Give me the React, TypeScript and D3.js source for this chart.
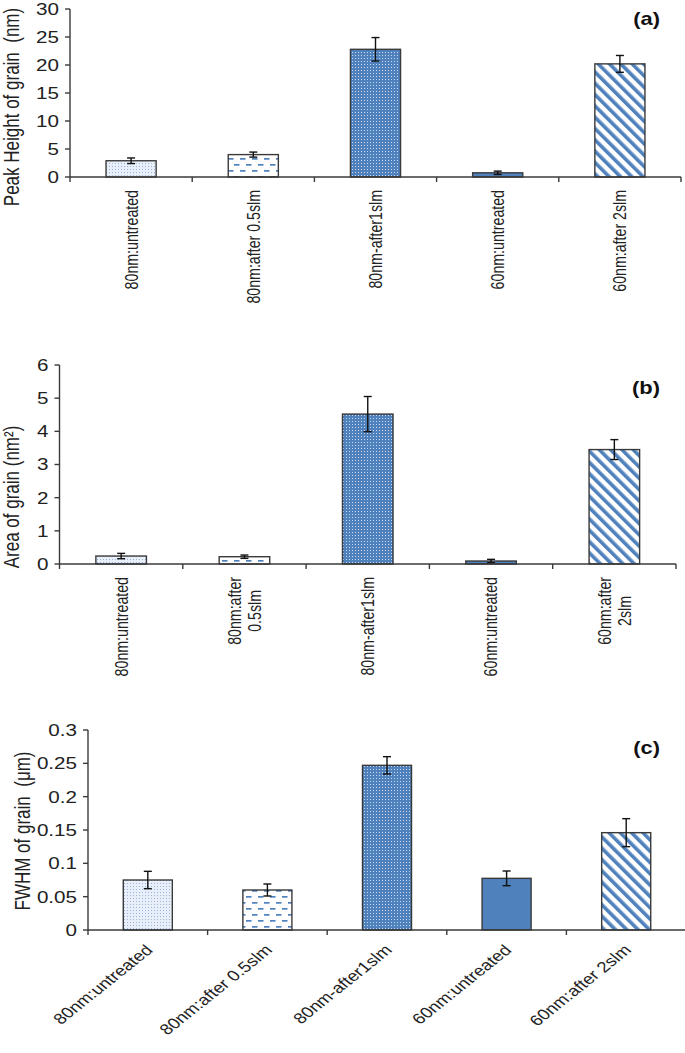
import React, { useEffect, useRef } from "react";
import * as d3 from "d3";

// ---------- data ----------
const categories = ["80nm:untreated", "80nm:after 0.5slm", "80nm-after1slm", "60nm:untreated", "60nm:after 2slm"];
const categoriesB = ["80nm:untreated", "80nm:after\n0.5slm", "80nm-after1slm", "60nm:untreated", "60nm:after\n2slm"];

const heightValues = [2.9, 4.0, 22.8, 0.75, 20.2];
const heightErrors = [0.5, 0.45, 2.1, 0.3, 1.5];

const areaValues = [0.24, 0.22, 4.52, 0.09, 3.45];
const areaErrors = [0.08, 0.05, 0.53, 0.05, 0.3];

const fwhmValues = [0.075, 0.06, 0.247, 0.0775, 0.146];
const fwhmErrors = [0.013, 0.009, 0.013, 0.011, 0.021];

const heightTicks = [0, 5, 10, 15, 20, 25, 30];
const heightTickLabels = ["0", "5", "10", "15", "20", "25", "30"];
const areaTicks = [0, 1, 2, 3, 4, 5, 6];
const areaTickLabels = ["0", "1", "2", "3", "4", "5", "6"];
const fwhmTicks = [0, 0.05, 0.1, 0.15, 0.2, 0.25, 0.3];
const fwhmTickLabels = ["0", "0.05", "0.1", "0.15", "0.2", "0.25", "0.3"];

// ---------- styles ----------
const BLUE = "#4F81BD";
const AXIS = "#3a3a3a";
const FONT = "'Liberation Sans', Arial, sans-serif";
const SX = 1.25; // horizontal stretch of the original picture
const barFills = ["url(#pLightDots)", "url(#pDashes)", "url(#pDenseDots)", BLUE, "url(#pDiag)"];

type Panel = {
  labels: string[];
  values: number[];
  errors: number[];
  ticks: number[];
  tickLabels: string[];
  x0: number; x1: number; yTop: number; yBot: number;
  title: string; titleX: number; titleY: number;
  tag: string; tagY: number;
  labelMode: "vertical" | "diag";
};

const panels: Panel[] = [
  {
    labels: categories, values: heightValues, errors: heightErrors,
    ticks: heightTicks, tickLabels: heightTickLabels,
    x0: 70, x1: 681, yTop: 9, yBot: 177,
    title: "Peak Height of grain  (nm)", titleX: 19, titleY: 107,
    tag: "(a)", tagY: 25, labelMode: "vertical",
  },
  {
    labels: categoriesB, values: areaValues, errors: areaErrors,
    ticks: areaTicks, tickLabels: areaTickLabels,
    x0: 59.5, x1: 676, yTop: 365, yBot: 564,
    title: "Area of grain (nm\u00B2)", titleX: 19, titleY: 497,
    tag: "(b)", tagY: 394, labelMode: "vertical",
  },
  {
    labels: categories, values: fwhmValues, errors: fwhmErrors,
    ticks: fwhmTicks, tickLabels: fwhmTickLabels,
    x0: 88, x1: 686, yTop: 730, yBot: 930,
    title: "FWHM of grain  (\u03BCm)", titleX: 30, titleY: 831,
    tag: "(c)", tagY: 754, labelMode: "diag",
  },
];

export default function App() {
  const ref = useRef<SVGSVGElement | null>(null);

  useEffect(() => {
    document.body.style.margin = "0";
    const svg = d3.select(ref.current);
    svg.selectAll("*").remove();

    // patterns
    const defs = svg.append("defs");
    const p1 = defs.append("pattern").attr("id", "pLightDots").attr("patternUnits", "userSpaceOnUse")
      .attr("width", 3).attr("height", 3);
    p1.append("rect").attr("width", 3).attr("height", 3).attr("fill", "#e9eff8");
    p1.append("rect").attr("x", 1).attr("y", 1).attr("width", 1).attr("height", 1).attr("fill", "#9bb5de");

    const p2 = defs.append("pattern").attr("id", "pDashes").attr("patternUnits", "userSpaceOnUse")
      .attr("width", 12).attr("height", 12);
    p2.append("rect").attr("width", 12).attr("height", 12).attr("fill", "#fff");
    p2.append("rect").attr("x", 0).attr("y", 2).attr("width", 5.5).attr("height", 1.7).attr("fill", BLUE);
    p2.append("rect").attr("x", 6).attr("y", 8).attr("width", 5.5).attr("height", 1.7).attr("fill", BLUE);

    const p3 = defs.append("pattern").attr("id", "pDenseDots").attr("patternUnits", "userSpaceOnUse")
      .attr("width", 3).attr("height", 3);
    p3.append("rect").attr("width", 3).attr("height", 3).attr("fill", BLUE);
    p3.append("rect").attr("x", 1).attr("y", 1).attr("width", 1).attr("height", 1).attr("fill", "#c9d8ee");

    const p5 = defs.append("pattern").attr("id", "pDiag").attr("patternUnits", "userSpaceOnUse")
      .attr("width", 8).attr("height", 8).attr("patternTransform", "rotate(-45)");
    p5.append("rect").attr("width", 8).attr("height", 8).attr("fill", "#fff");
    p5.append("rect").attr("x", 0).attr("y", 0).attr("width", 3.6).attr("height", 8).attr("fill", BLUE);

    panels.forEach((p) => {
      const g = svg.append("g");
      const x = d3.scaleBand<number>()
        .domain(d3.range(p.labels.length))
        .range([p.x0, p.x1])
        .paddingInner(0.59)
        .paddingOuter(0.295);
      const y = d3.scaleLinear()
        .domain([p.ticks[0], p.ticks[p.ticks.length - 1]])
        .range([p.yBot, p.yTop]);
      const step = x.step();

      // bars
      g.selectAll("rect.bar").data(p.values).join("rect")
        .attr("class", "bar")
        .attr("x", (_d, i) => x(i)!)
        .attr("y", (d) => y(d))
        .attr("width", x.bandwidth())
        .attr("height", (d) => y(0) - y(d))
        .attr("fill", (_d, i) => barFills[i])
        .attr("stroke", AXIS)
        .attr("stroke-width", 1.4);

      // error bars
      const eb = g.selectAll("g.err").data(p.values).join("g").attr("class", "err");
      eb.append("line")
        .attr("x1", (_d, i) => x(i)! + x.bandwidth() / 2)
        .attr("x2", (_d, i) => x(i)! + x.bandwidth() / 2)
        .attr("y1", (d, i) => y(d + p.errors[i]))
        .attr("y2", (d, i) => y(d - p.errors[i]))
        .attr("stroke", "#111").attr("stroke-width", 1.4);
      [1, -1].forEach((s) => {
        eb.append("line")
          .attr("x1", (_d, i) => x(i)! + x.bandwidth() / 2 - 4)
          .attr("x2", (_d, i) => x(i)! + x.bandwidth() / 2 + 4)
          .attr("y1", (d, i) => y(d + s * p.errors[i]))
          .attr("y2", (d, i) => y(d + s * p.errors[i]))
          .attr("stroke", "#111").attr("stroke-width", 1.4);
      });

      // y axis
      g.append("line").attr("x1", p.x0).attr("x2", p.x0).attr("y1", p.yTop).attr("y2", p.yBot)
        .attr("stroke", AXIS).attr("stroke-width", 1.4);
      g.selectAll("line.yt").data(p.ticks).join("line").attr("class", "yt")
        .attr("x1", p.x0 - 5).attr("x2", p.x0)
        .attr("y1", (d) => y(d)).attr("y2", (d) => y(d))
        .attr("stroke", AXIS).attr("stroke-width", 1.4);
      g.selectAll("text.yl").data(p.ticks).join("text").attr("class", "yl")
        .attr("transform", (d) => `translate(${p.x0 - 11},${y(d)}) scale(${SX},1)`)
        .attr("text-anchor", "end").attr("dy", "0.36em")
        .attr("font-family", FONT).attr("font-size", 16.5).attr("fill", "#222")
        .text((_d, i) => p.tickLabels[i]);

      // x axis
      g.append("line").attr("x1", p.x0).attr("x2", p.x1).attr("y1", p.yBot).attr("y2", p.yBot)
        .attr("stroke", AXIS).attr("stroke-width", 1.4);
      g.selectAll("line.xt").data(d3.range(p.labels.length + 1)).join("line").attr("class", "xt")
        .attr("x1", (i) => p.x0 + i * step).attr("x2", (i) => p.x0 + i * step)
        .attr("y1", p.yBot).attr("y2", p.yBot + 5)
        .attr("stroke", AXIS).attr("stroke-width", 1.4);

      // x labels
      p.labels.forEach((lab, i) => {
        const cx = x(i)! + x.bandwidth() / 2;
        const lines = lab.split("\n");
        if (p.labelMode === "vertical") {
          const fs = 14.2;
          const tmp = g.append("text").attr("font-family", FONT).attr("font-size", fs);
          let maxLen = 0;
          lines.forEach((l) => {
            tmp.text(l);
            maxLen = Math.max(maxLen, (tmp.node() as SVGTextElement).getComputedTextLength());
          });
          tmp.remove();
          const cy = p.yBot + 13 + maxLen / 2;
          lines.forEach((l, j) => {
            g.append("text")
              .attr("transform", `translate(${cx},${cy}) scale(${SX},1) rotate(-90)`)
              .attr("text-anchor", "middle")
              .attr("dy", `${(j - (lines.length - 1) / 2) * 1.1 + 0.36}em`)
              .attr("font-family", FONT).attr("font-size", fs).attr("fill", "#222")
              .text(l);
          });
        } else {
          g.append("text")
            .attr("transform", `translate(${cx + 6},${p.yBot + 21}) scale(${SX},1) rotate(-45)`)
            .attr("text-anchor", "end")
            .attr("font-family", FONT).attr("font-size", 15).attr("fill", "#222")
            .text(lab);
        }
      });

      // y title
      g.append("text")
        .attr("transform", `translate(${p.titleX},${p.titleY}) scale(${SX},1) rotate(-90)`)
        .attr("text-anchor", "middle")
        .attr("font-family", FONT).attr("font-size", 17).attr("fill", "#222")
        .style("white-space", "pre")
        .text(p.title);

      // panel tag
      g.append("text")
        .attr("transform", `translate(660,${p.tagY}) scale(${SX},1)`)
        .attr("text-anchor", "end")
        .attr("font-family", FONT).attr("font-size", 17.5).attr("font-weight", "bold").attr("fill", "#111")
        .text(p.tag);
    });
  }, []);

  return <svg ref={ref} width={685} height={1053} style={{ display: "block", background: "#fff" }} />;
}
